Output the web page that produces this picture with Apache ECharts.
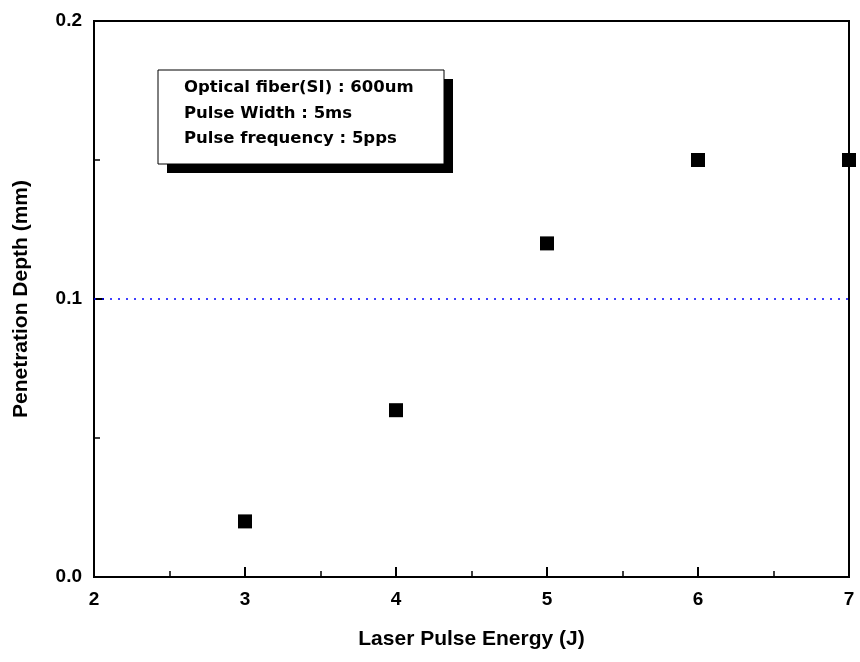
<!DOCTYPE html>
<html>
<head>
<meta charset="utf-8">
<script src="https://cdn.jsdelivr.net/npm/echarts@6/dist/echarts.min.js"></script>
<style>
  html, body { margin: 0; padding: 0; background: #fff; }
  #chart { width: 860px; height: 662px; }
</style>
</head>
<body>
<div id="chart"></div>
<script>
// laser pulse energy (J) vs penetration depth (mm)
const energy = [3, 4, 5, 6, 7];
const depth = [0.02, 0.06, 0.12, 0.15, 0.15];
const noteLines = [
  'Optical fiber(SI) : 600um',
  'Pulse Width : 5ms',
  'Pulse frequency : 5pps'
];
const refDepth = 0.1;

const chart = echarts.init(document.getElementById('chart'));
const font = 'Liberation Sans, Arial, sans-serif';

const axisCommon = {
  axisLine: { show: true, onZero: false, lineStyle: { color: '#000', width: 2 } },
  axisTick: { show: true, inside: true, length: 10, lineStyle: { color: '#000', width: 2 } },
  minorTick: { show: true, splitNumber: 2, length: 6, lineStyle: { color: '#000', width: 1.5 } },
  splitLine: { show: false },
  axisLabel: { color: '#000', fontFamily: font, fontWeight: 'bold', fontSize: 19 },
  nameTextStyle: { color: '#000', fontFamily: font, fontWeight: 'bold', fontSize: 21 }
};

chart.setOption({
  animation: false,
  grid: {
    left: 94, right: 11, top: 21, bottom: 85,
    show: true, borderColor: '#000', borderWidth: 2
  },
  xAxis: Object.assign({}, axisCommon, {
    type: 'value', min: 2, max: 7, interval: 1,
    name: 'Laser Pulse Energy (J)', nameLocation: 'middle', nameGap: 52,
    axisLabel: Object.assign({}, axisCommon.axisLabel, { margin: 13 })
  }),
  yAxis: Object.assign({}, axisCommon, {
    type: 'value', min: 0, max: 0.2, interval: 0.1,
    name: 'Penetration Depth (mm)', nameLocation: 'middle', nameGap: 62,
    axisLabel: Object.assign({}, axisCommon.axisLabel, {
      margin: 12,
      formatter: v => v.toFixed(1)
    })
  }),
  series: [{
    type: 'scatter',
    data: energy.map((e, i) => [e, depth[i]]),
    symbol: 'rect',
    symbolSize: 14,
    itemStyle: { color: '#000', opacity: 1 },
    markLine: {
      silent: true,
      symbol: 'none',
      label: { show: false },
      lineStyle: { color: '#0000ff', type: [2, 6], width: 1.5, opacity: 1 },
      data: [{ yAxis: refDepth }]
    }
  }],
  graphic: [
    { type: 'rect', shape: { x: 167, y: 79, width: 286, height: 94 }, style: { fill: '#000' } },
    { type: 'rect', shape: { x: 158, y: 70, width: 286, height: 94 },
      style: { fill: '#fff', stroke: '#000', lineWidth: 1 } }
  ].concat(noteLines.map((t, i) => ({
    type: 'text',
    style: {
      x: 184, y: 88 + i * 25.5, text: t, fill: '#000',
      verticalAlign: 'middle',
      font: 'bold 16.5px "DejaVu Sans", sans-serif'
    }
  })))
});
</script>
</body>
</html>
